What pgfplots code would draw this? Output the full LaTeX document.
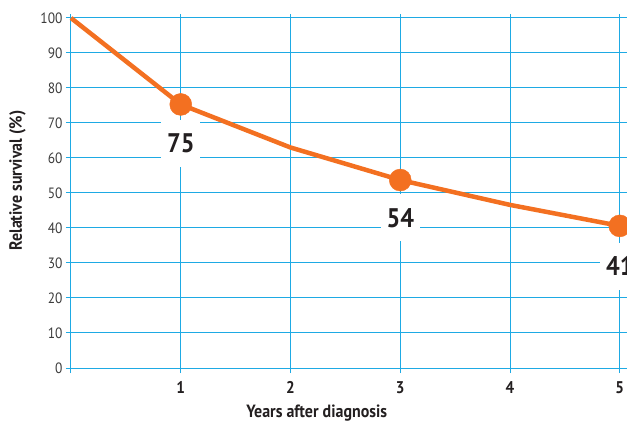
\documentclass[border=0pt]{standalone}
\usepackage{fontspec}
\setmainfont{PT Sans}[FakeStretch=0.9]
\usepackage{pgfplots}
\pgfplotsset{compat=1.18}
\definecolor{gridblue}{RGB}{30,170,228}
\definecolor{survorange}{RGB}{243,112,33}
\definecolor{ticktext}{RGB}{60,60,60}
\definecolor{labeltext}{RGB}{35,31,32}
\begin{document}
\begin{tikzpicture}
\begin{axis}[
  scale only axis, width=556bp, height=353.5bp,
  xmin=0, xmax=5.066, ymin=0, ymax=101,
  axis line style={draw=none},
  clip=false,
  xtick={0,1,2,3,4,5}, xticklabels={,1,2,3,4,5},
  ytick={0,10,...,100},
  xtick pos=bottom, ytick pos=left,
  tick align=outside, major tick length=5bp,
  tick style={gridblue, line width=1bp},
  grid=major, major grid style={gridblue, line width=1bp},
  /pgf/number format/assume math mode=true,
  yticklabel style={font=\fontsize{15}{15}\selectfont, text=ticktext},
  xticklabel style={font=\fontsize{17}{17}\selectfont\bfseries, text=labeltext, yshift=-5bp},
  xlabel={Years after diagnosis},
  ylabel={Relative survival (\%)},
  label style={font=\fontsize{17.8}{17.8}\selectfont\bfseries, text=labeltext},
  xlabel style={at={(axis description cs:0.442,-0.127)}, anchor=center},
  ylabel style={at={(axis description cs:-0.0962,0.53)}, anchor=center, rotate=0},
]
\node[fill=white, inner sep=0pt, minimum width=39bp, minimum height=47bp,
  font=\fontsize{27}{27}\selectfont\bfseries, text=labeltext] at (axis cs:1,64.1) {75};
\node[fill=white, inner sep=0pt, minimum width=39bp, minimum height=47bp,
  font=\fontsize{27}{27}\selectfont\bfseries, text=labeltext] at (axis cs:3,42.9) {54};
\node[fill=white, inner sep=0pt, minimum width=39bp, minimum height=47bp,
  font=\fontsize{27}{27}\selectfont\bfseries, text=labeltext] at (axis cs:5,29.1) {41};
\addplot[survorange, line width=4.5bp, line join=round]
  coordinates {(0,100) (1,75.3) (2,63) (3,53.7) (4,46.6) (5,40.6)};
\addplot[only marks, mark=*, mark size=11bp, survorange]
  coordinates {(1,75.3) (3,53.7) (5,40.6)};
\end{axis}
\pgfresetboundingbox
\path ([shift={(-71bp,-53bp)}]current axis.south west) rectangle ([shift={(0bp,14.5bp)}]current axis.north east);
\end{tikzpicture}
\end{document}
